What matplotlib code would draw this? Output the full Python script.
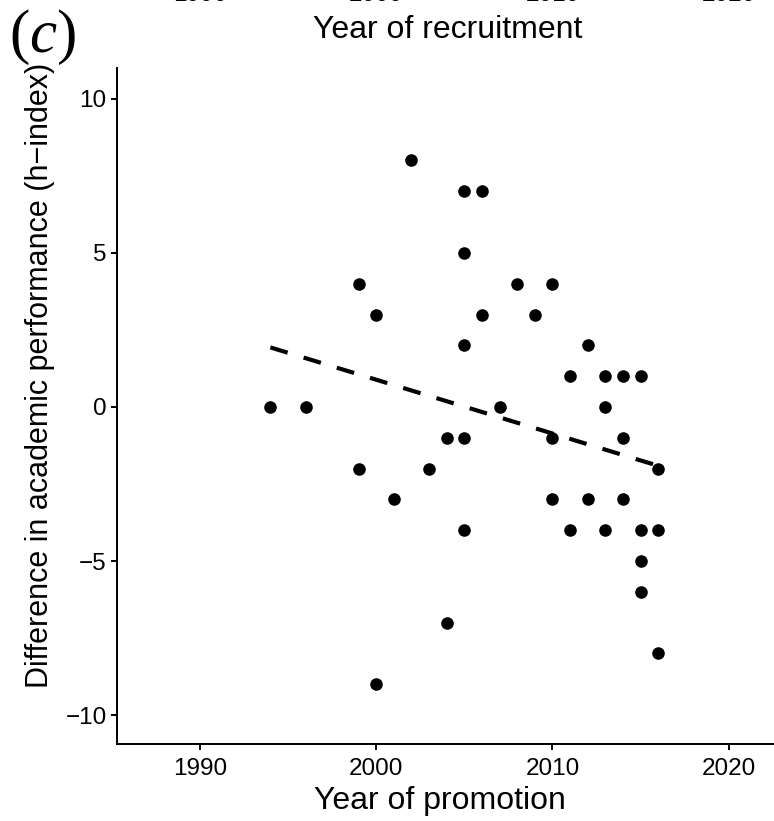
import numpy as np
import matplotlib.pyplot as plt

plt.rcParams['font.family'] = ['Liberation Sans', 'DejaVu Sans']
plt.rcParams['mathtext.fontset'] = 'custom'
plt.rcParams['mathtext.rm'] = 'Liberation Serif'
plt.rcParams['mathtext.it'] = 'Liberation Serif:italic'
plt.rcParams['lines.scale_dashes'] = False

year = [1994, 1996, 1999, 1999, 2000, 2000, 2001, 2002, 2003, 2004, 2004,
        2005, 2005, 2005, 2005, 2005, 2006, 2006, 2007, 2008, 2009,
        2010, 2010, 2010, 2011, 2011, 2012, 2012, 2013, 2013, 2013,
        2014, 2014, 2014, 2015, 2015, 2015, 2015, 2016, 2016, 2016]
diff = [0, 0, 4, -2, 3, -9, -3, 8, -2, -1, -7,
        7, 5, 2, -1, -4, 7, 3, 0, 4, 3,
        4, -1, -3, 1, -4, 2, -3, 1, 0, -4,
        1, -1, -3, 1, -4, -5, -6, -2, -4, -8]
xticks = [1990, 2000, 2010, 2020]
yticks = [-10, -5, 0, 5, 10]

fig = plt.figure(figsize=(7.74, 8.21), dpi=100)
ax = fig.add_axes([0.1512, 0.0934, 0.8488, 0.8237])

ax.scatter(year, diff, s=82, color='black', linewidths=0, zorder=3)

# linear fit, dashed
slope, icpt = np.polyfit(year, diff, 1)
xs = np.array([min(year), max(year)])
ax.plot(xs, icpt + slope * xs, color='black', lw=3.0, linestyle=(0, (13, 12)))

ax.set_xlim(1985.3, 2022.57)
ax.set_ylim(-10.95, 11.0)
ax.set_xticks(xticks)
ax.set_yticks(yticks)
ax.set_yticklabels([str(v).replace('-', '\u2212') for v in yticks])

for side in ['top', 'right']:
    ax.spines[side].set_visible(False)
for side in ['left', 'bottom']:
    ax.spines[side].set_linewidth(1.4)
ax.tick_params(length=4.5, width=1.4, labelsize=17.5, colors='black')
ax.tick_params(axis='x', pad=5)
ax.tick_params(axis='y', pad=3)

ax.set_xlabel('Year of promotion', fontsize=23)
ax.xaxis.set_label_coords(0.4916, -0.062)
ax.set_ylabel('Difference in academic performance (h\u2212index)', fontsize=22)
ax.yaxis.set_label_coords(-0.094, 0.546)

# remains of the panel above, cut off at the top edge
top = fig.add_axes([0.1512, 1.019, 0.8488, 0.2])
top.set_xlim(1985.3, 2022.57)
top.set_xticks(xticks)
top.tick_params(length=0, labelsize=17.5, pad=0)
for s in top.spines.values():
    s.set_visible(False)
top.set_yticks([])
top.patch.set_visible(False)
fig.text(0.578, 0.964, 'Year of recruitment', fontsize=23, ha='center', va='center')

fig.text(0.012, 0.955, r'$(c)$', fontsize=44, ha='left', va='center')

plt.savefig('out.png', dpi=100)
plt.close()
